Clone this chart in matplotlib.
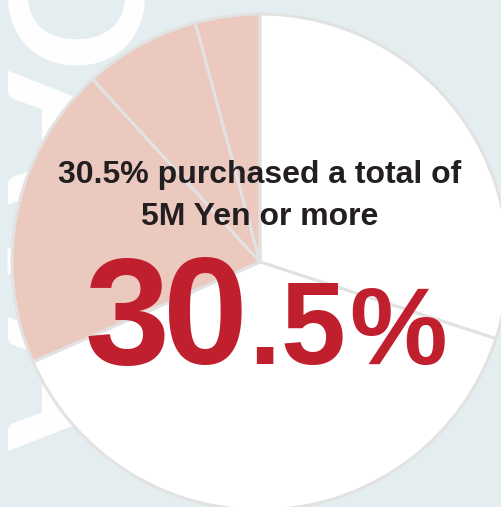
import matplotlib
matplotlib.use("Agg")
import matplotlib.pyplot as plt

# ---- data ----
slice_labels = ["Under 3M Yen", "3M-5M Yen", "5M-10M Yen", "10M-20M Yen", "20M Yen+"]
slice_values = [30.0, 38.4, 19.8, 7.6, 4.2]
slice_colors = ["#ffffff", "#ffffff", "#ecc9bf", "#ecc9bf", "#ecc9bf"]
headline = ["30.5% purchased a total of", "5M Yen or more"]
big_chars = ["3", "0", ".", "5", "%"]
watermark = "DATA"

W, H = 502, 507
BG = "#e4edf0"
RED = "#c01f2e"
DARK = "#231f20"
EDGE = "#e2e2e2"

fig = plt.figure(figsize=(W / 100, H / 100), dpi=100)
fig.patch.set_facecolor(BG)
ax = fig.add_axes([0, 0, 1, 1])
ax.set_facecolor(BG)

def Y(y):
    return H - y

# watermark behind the pie
ax.text(46, Y(-58), watermark, rotation=270, color="white", fontsize=137,
        family="Lato", fontweight="bold", ha="center", va="top", zorder=0)

ax.pie(slice_values, colors=slice_colors, startangle=90, counterclock=False,
       center=(260, Y(262)), radius=248,
       wedgeprops=dict(edgecolor=EDGE, linewidth=2.2), frame=True)

ax.set_xlim(0, W)
ax.set_ylim(0, H)
ax.set_aspect("equal")
ax.axis("off")

ax.text(260, Y(183), headline[0], ha="center", va="baseline", color=DARK,
        fontsize=23, family="Liberation Sans", fontweight="bold", zorder=5)
ax.text(260, Y(225), headline[1], ha="center", va="baseline", color=DARK,
        fontsize=23, family="Liberation Sans", fontweight="bold", zorder=5)

# big figure, glyph by glyph to match tight spacing
big_x = [85, 163, 248, 280, 349]
big_size = [110, 110, 84, 84, 79]
big_weight = ["bold", "bold", "bold", "bold", "bold"]
for ch, x, s, w in zip(big_chars, big_x, big_size, big_weight):
    ax.text(x, Y(364), ch, ha="left", va="baseline", color=RED,
            fontsize=s, family="Liberation Sans", fontweight=w, zorder=5)

fig.savefig("out.png", dpi=100, facecolor=BG)
